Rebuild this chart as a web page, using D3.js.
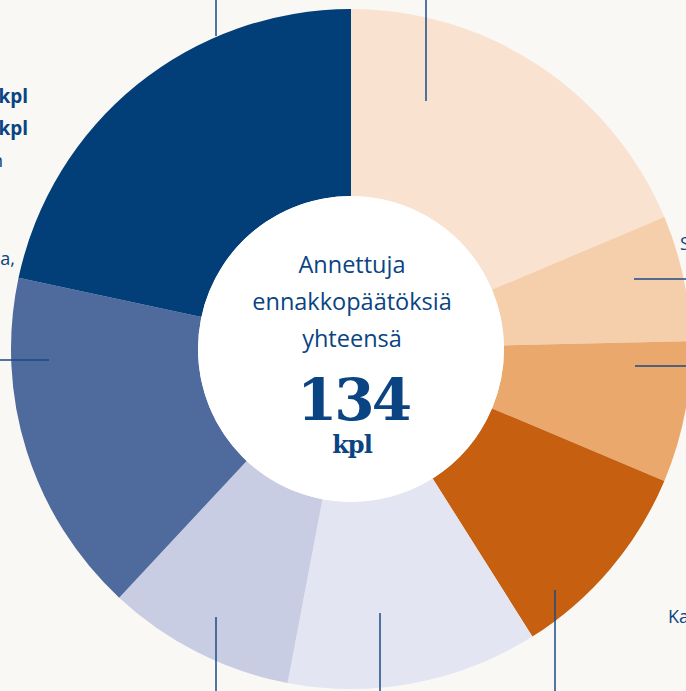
<!DOCTYPE html>
<html><head><meta charset="utf-8">
<script src="https://cdn.jsdelivr.net/npm/d3@7/dist/d3.min.js"></script>
<style>
html,body{margin:0;padding:0;background:#f9f8f4;overflow:hidden;}
svg{display:block;}
</style></head>
<body>
<svg id="chart" width="686" height="691"></svg>
<script>
const categories = ["A","B","C","D","E","F","G","H"];
const values = [25, 8, 9, 13, 16, 12, 22, 29];
const colors = ["#f9e2d0","#f5cfab","#eaa86c","#c65f10","#e3e6f2","#c8cde3","#4f6a9c","#023e77"];
const centerLines = ["Annettuja","ennakkopäätöksiä","yhteensä"];
const totalLabel = "134";
const unitLabel = "kpl";

const svg = d3.select("#chart");
const cx = 351, cy = 349, R = 340, r0 = 153;
const g = svg.append("g").attr("transform",`translate(${cx},${cy})`);

const pie = d3.pie().sort(null).value(d=>d.v);
const arc = d3.arc().innerRadius(r0).outerRadius(R);
const data = categories.map((c,i)=>({c, v: values[i], col: colors[i]}));
g.selectAll("path").data(pie(data)).join("path")
  .attr("d", arc).attr("fill", d=>d.data.col);
g.append("circle").attr("r", r0).attr("fill","#ffffff");

const txtCol = "#0a4482";
const tg = g.append("g").attr("fill", txtCol).attr("text-anchor","middle");
centerLines.forEach((t,i)=>{
  tg.append("text").attr("x",1).attr("y",-76 + i*37)
    .attr("font-family","'Open Sans', sans-serif").attr("font-size",23.5).text(t);
});
tg.append("text").attr("x",2).attr("y",71)
  .attr("font-family","'DejaVu Serif', serif").attr("font-weight","bold")
  .attr("font-size",58).attr("letter-spacing","-3").text(totalLabel);
tg.append("text").attr("x",1).attr("y",104)
  .attr("font-family","'DejaVu Serif', serif").attr("font-weight","bold")
  .attr("font-size",24).attr("letter-spacing","-1").text(unitLabel);

// leader lines
const lineCol = "#1b4a86";
const lines = [
  [216,0,216,36],[426,0,426,101],
  [634,279,686,279],[635,366,686,366],
  [0,360,49,360],
  [216,617,216,691],[380,613,380,691],[555,590,555,691]
];
svg.selectAll("line.lead").data(lines).join("line").attr("class","lead")
  .attr("x1",d=>d[0]).attr("y1",d=>d[1]).attr("x2",d=>d[2]).attr("y2",d=>d[3])
  .attr("stroke",lineCol).attr("stroke-width",1.5);

// partially visible outer labels
const lab = svg.append("g").attr("fill", txtCol).attr("font-family","'Open Sans', sans-serif").attr("font-size",18);
lab.append("text").attr("x",28).attr("y",103).attr("text-anchor","end").attr("font-weight","bold").attr("font-size",19).text("kpl");
lab.append("text").attr("x",28).attr("y",135).attr("text-anchor","end").attr("font-weight","bold").attr("font-size",19).text("kpl");
lab.append("text").attr("x",3).attr("y",167).attr("text-anchor","end").text("n");
lab.append("text").attr("x",15).attr("y",265).attr("text-anchor","end").text("a,");
lab.append("text").attr("x",680).attr("y",250).text("S");
lab.append("text").attr("x",668).attr("y",623).text("Ka");
</script>
</body></html>
